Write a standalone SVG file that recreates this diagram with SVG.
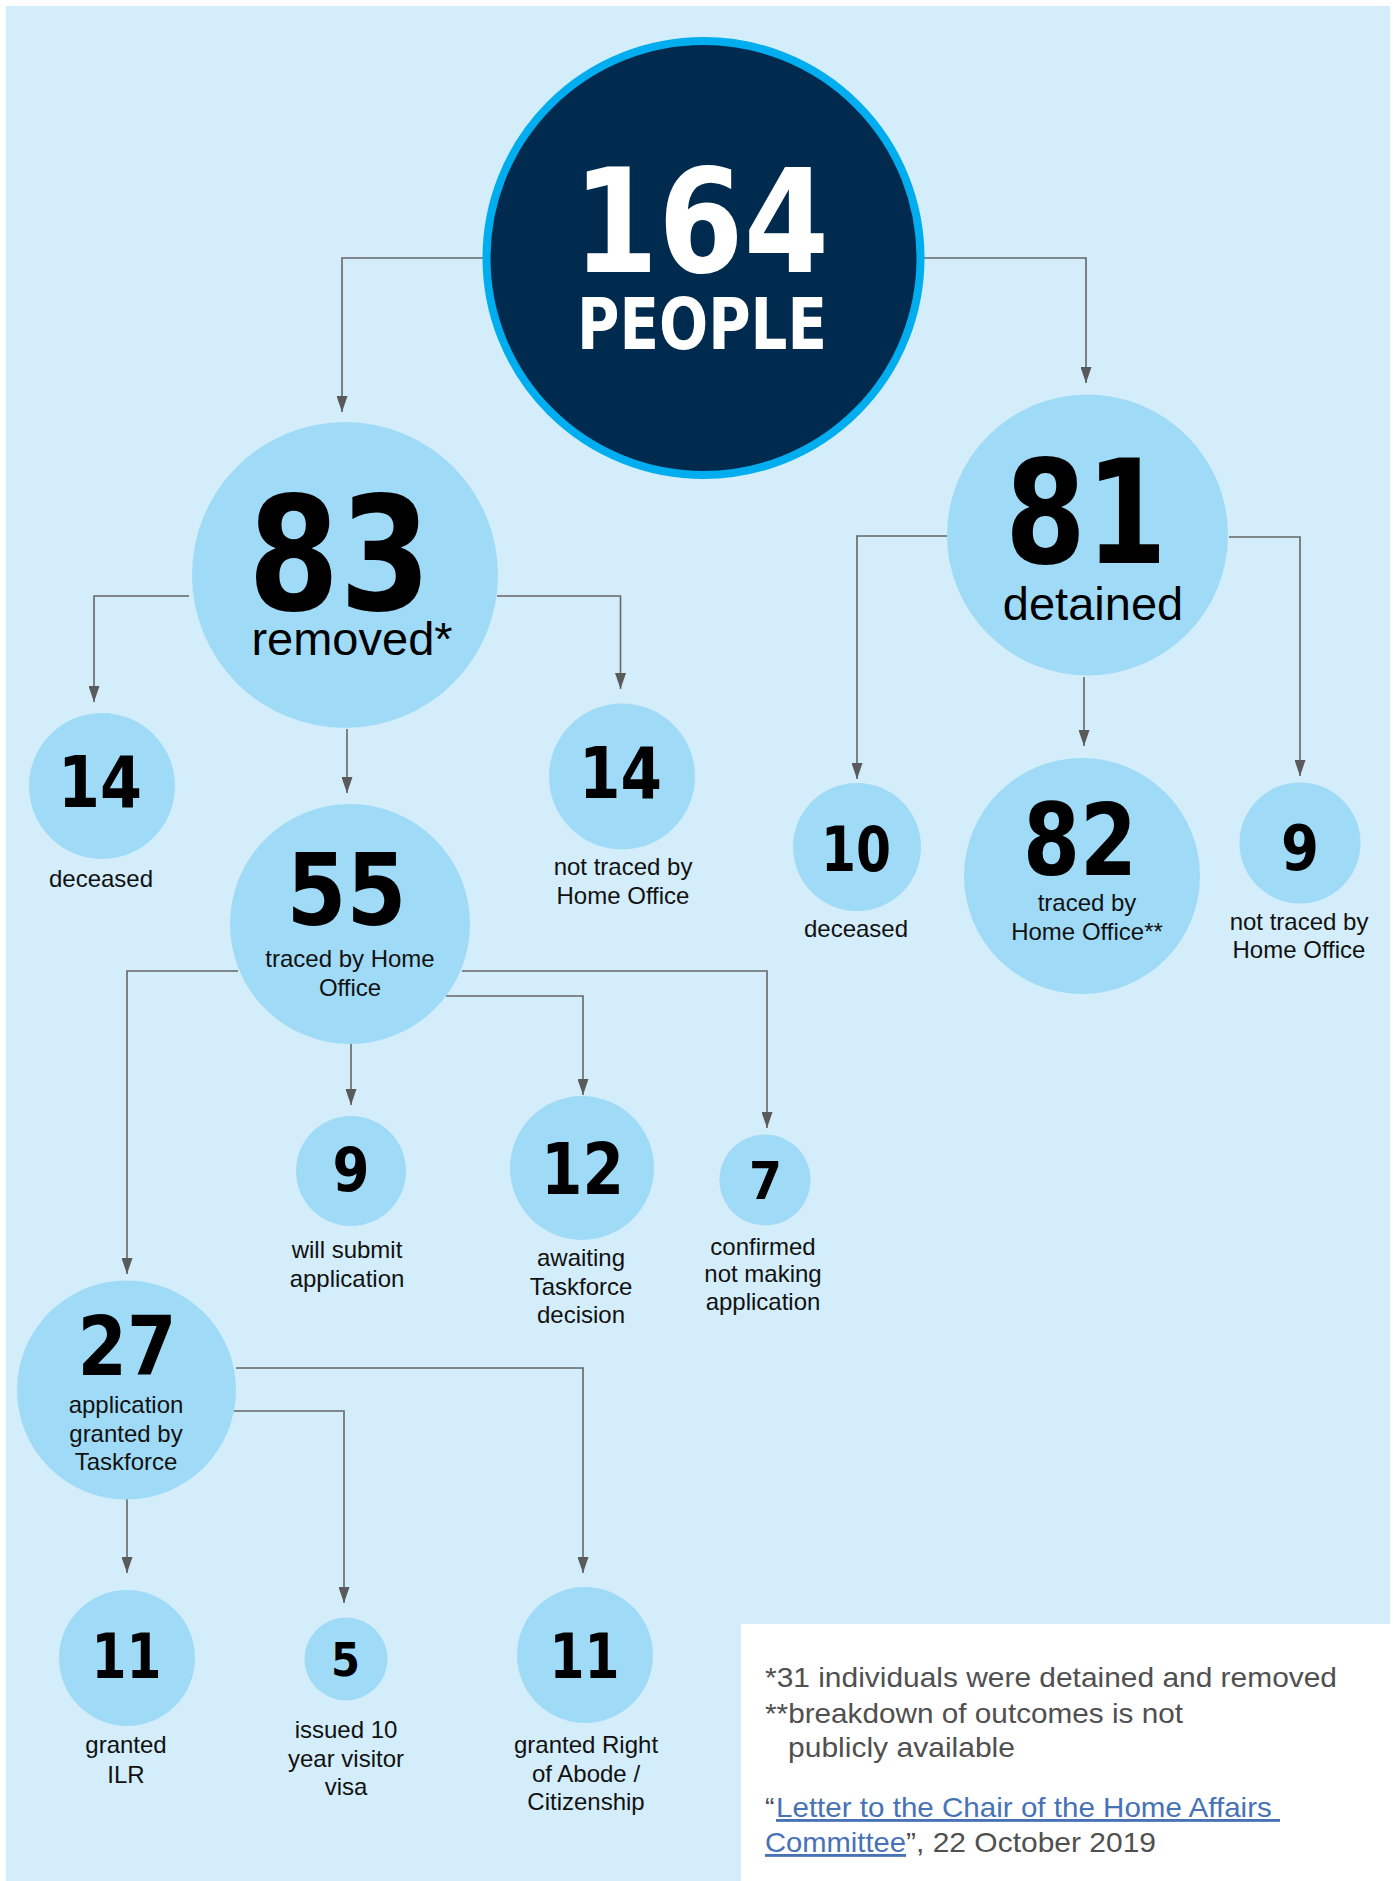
<svg xmlns="http://www.w3.org/2000/svg" width="1394" height="1881" viewBox="0 0 1394 1881">
<style>
.bub{fill:#9fdbf7}
.num{font-family:"DejaVu Sans",sans-serif;font-weight:bold;fill:#000;text-anchor:middle}
.lbl{font-family:"Liberation Sans",Arial,sans-serif;font-size:24px;fill:#111;text-anchor:middle}
.big{font-family:"Liberation Sans",Arial,sans-serif;font-size:47px;fill:#000;text-anchor:middle}
.conn{fill:none;stroke:#666;stroke-width:1.6}
.note{font-family:"Liberation Sans",Arial,sans-serif;font-size:28.5px;fill:#505050}
.link{fill:#4872b6;text-decoration:underline}
</style>
<defs>
<marker id="arr" viewBox="0 0 16 11" refX="16" refY="5.5" markerWidth="16" markerHeight="11" markerUnits="userSpaceOnUse" orient="auto">
<path d="M0,0 L16,5.5 L0,11 z" fill="#5a5a5a"/>
</marker>
</defs>
<rect x="6" y="6" width="1384" height="1875" fill="#d3edfa"/>
<rect x="741" y="1624" width="653" height="257" fill="#ffffff"/>

<g id="connectors">
<path class="conn" marker-end="url(#arr)" d="M483,258 H342 V412"/>
<path class="conn" marker-end="url(#arr)" d="M924,258 H1086 V383"/>
<path class="conn" marker-end="url(#arr)" d="M189,596 H94 V702"/>
<path class="conn" marker-end="url(#arr)" d="M497,596 H620.5 V689"/>
<path class="conn" marker-end="url(#arr)" d="M347,729 V793"/>
<path class="conn" marker-end="url(#arr)" d="M948,536 H857 V779"/>
<path class="conn" marker-end="url(#arr)" d="M1084,677 V746"/>
<path class="conn" marker-end="url(#arr)" d="M1229,537 H1300 V776"/>
<path class="conn" marker-end="url(#arr)" d="M238,971 H127 V1274"/>
<path class="conn" marker-end="url(#arr)" d="M462,971 H767 V1128"/>
<path class="conn" marker-end="url(#arr)" d="M446,996 H583 V1095"/>
<path class="conn" marker-end="url(#arr)" d="M351,1044 V1105"/>
<path class="conn" marker-end="url(#arr)" d="M236,1368 H583 V1573"/>
<path class="conn" marker-end="url(#arr)" d="M234,1411 H344 V1603"/>
<path class="conn" marker-end="url(#arr)" d="M127,1499 V1573"/>
</g>

<g id="node-164">
<circle cx="703.5" cy="258" r="217" fill="#002a4e" stroke="#00aeef" stroke-width="8"/>
<text class="num" x="701" y="272" font-size="145" style="fill:#fff" textLength="256" lengthAdjust="spacingAndGlyphs">164</text>
<text class="num" x="702" y="349" font-size="72" style="fill:#fff" textLength="250" lengthAdjust="spacingAndGlyphs">PEOPLE</text>
</g>

<g id="node-83">
<circle class="bub" cx="345" cy="575" r="153"/>
<text class="num" x="339.5" y="610" font-size="158" textLength="183" lengthAdjust="spacingAndGlyphs">83</text>
<text class="big" x="352" y="655">removed*</text>
</g>

<g id="node-81">
<circle class="bub" cx="1087.5" cy="535" r="140.5"/>
<text class="num" x="1086" y="563" font-size="145" textLength="162" lengthAdjust="spacingAndGlyphs">81</text>
<text class="big" x="1093" y="620">detained</text>
</g>

<g id="node-14-deceased">
<circle class="bub" cx="102" cy="786" r="73"/>
<text class="num" x="100" y="807" font-size="71" textLength="84" lengthAdjust="spacingAndGlyphs">14</text>
<text class="lbl" x="101" y="887">deceased</text>
</g>

<g id="node-14-not-traced">
<circle class="bub" cx="622" cy="776.5" r="73"/>
<text class="num" x="620.5" y="798" font-size="71" textLength="83" lengthAdjust="spacingAndGlyphs">14</text>
<text class="lbl" x="623" y="875">not traced by</text>
<text class="lbl" x="623" y="904">Home Office</text>
</g>

<g id="node-55">
<circle class="bub" cx="350" cy="924" r="120"/>
<text class="num" x="346.5" y="925" font-size="100" textLength="120" lengthAdjust="spacingAndGlyphs">55</text>
<text class="lbl" x="350" y="967">traced by Home</text>
<text class="lbl" x="350" y="996">Office</text>
</g>

<g id="node-10">
<circle class="bub" cx="857" cy="847" r="64"/>
<text class="num" x="856" y="871" font-size="63" textLength="70" lengthAdjust="spacingAndGlyphs">10</text>
<text class="lbl" x="856" y="937">deceased</text>
</g>

<g id="node-82">
<circle class="bub" cx="1082" cy="876" r="118"/>
<text class="num" x="1080" y="875" font-size="100" textLength="114" lengthAdjust="spacingAndGlyphs">82</text>
<text class="lbl" x="1087" y="911">traced by</text>
<text class="lbl" x="1087" y="940">Home Office**</text>
</g>

<g id="node-9-not-traced">
<circle class="bub" cx="1300" cy="843" r="60.5"/>
<text class="num" x="1300" y="870" font-size="63" textLength="38" lengthAdjust="spacingAndGlyphs">9</text>
<text class="lbl" x="1299" y="930">not traced by</text>
<text class="lbl" x="1299" y="958">Home Office</text>
</g>

<g id="node-9-will-submit">
<circle class="bub" cx="351" cy="1171" r="55"/>
<text class="num" x="351" y="1191" font-size="60" textLength="37" lengthAdjust="spacingAndGlyphs">9</text>
<text class="lbl" x="347" y="1258">will submit</text>
<text class="lbl" x="347" y="1287">application</text>
</g>

<g id="node-12">
<circle class="bub" cx="582" cy="1168" r="72"/>
<text class="num" x="582.5" y="1194" font-size="71" textLength="83" lengthAdjust="spacingAndGlyphs">12</text>
<text class="lbl" x="581" y="1266">awaiting</text>
<text class="lbl" x="581" y="1295">Taskforce</text>
<text class="lbl" x="581" y="1323">decision</text>
</g>

<g id="node-7">
<circle class="bub" cx="765" cy="1180" r="45.5"/>
<text class="num" x="765.5" y="1199" font-size="51" textLength="33" lengthAdjust="spacingAndGlyphs">7</text>
<text class="lbl" x="763" y="1255">confirmed</text>
<text class="lbl" x="763" y="1282">not making</text>
<text class="lbl" x="763" y="1310">application</text>
</g>

<g id="node-27">
<circle class="bub" cx="126.5" cy="1390" r="109.5"/>
<text class="num" x="127" y="1375" font-size="82" textLength="99" lengthAdjust="spacingAndGlyphs">27</text>
<text class="lbl" x="126" y="1413">application</text>
<text class="lbl" x="126" y="1442">granted by</text>
<text class="lbl" x="126" y="1470">Taskforce</text>
</g>

<g id="node-11-ilr">
<circle class="bub" cx="127" cy="1658" r="68"/>
<text class="num" x="126.5" y="1678" font-size="63" textLength="70" lengthAdjust="spacingAndGlyphs">11</text>
<text class="lbl" x="126" y="1753">granted</text>
<text class="lbl" x="126" y="1783">ILR</text>
</g>

<g id="node-5">
<circle class="bub" cx="346" cy="1659" r="41.5"/>
<text class="num" x="345.5" y="1676" font-size="47" textLength="29" lengthAdjust="spacingAndGlyphs">5</text>
<text class="lbl" x="346" y="1738">issued 10</text>
<text class="lbl" x="346" y="1767">year visitor</text>
<text class="lbl" x="346" y="1795">visa</text>
</g>

<g id="node-11-abode">
<circle class="bub" cx="585" cy="1655" r="68"/>
<text class="num" x="584.5" y="1678" font-size="63" textLength="70" lengthAdjust="spacingAndGlyphs">11</text>
<text class="lbl" x="586" y="1753">granted Right</text>
<text class="lbl" x="586" y="1782">of Abode /</text>
<text class="lbl" x="586" y="1810">Citizenship</text>
</g>

<g id="footnotes">
<text class="note" x="765" y="1687" textLength="572" lengthAdjust="spacingAndGlyphs">*31 individuals were detained and removed</text>
<text class="note" x="765" y="1723" textLength="418" lengthAdjust="spacingAndGlyphs">**breakdown of outcomes is not</text>
<text class="note" x="788" y="1757" textLength="227" lengthAdjust="spacingAndGlyphs">publicly available</text>
<text class="note" x="765" y="1817">“</text>
<text class="note link" x="776" y="1817" style="white-space:pre" textLength="504" lengthAdjust="spacingAndGlyphs">Letter to the Chair of the Home Affairs </text>
<text class="note link" x="765" y="1852" textLength="141" lengthAdjust="spacingAndGlyphs">Committee</text>
<text class="note" x="906" y="1852" textLength="250" lengthAdjust="spacingAndGlyphs">”, 22 October 2019</text>
</g>
</svg>
